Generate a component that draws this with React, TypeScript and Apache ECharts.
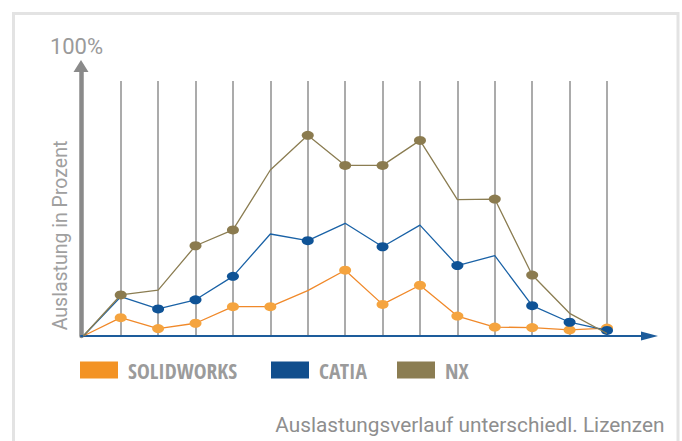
import React, { useEffect, useRef } from "react";
import * as echarts from "echarts";

// ---- data ----
const categories = ["0", "1", "2", "3", "4", "5", "6", "7", "8", "9", "10", "11", "12", "13", "14"];
const seriesNames = ["SOLIDWORKS", "CATIA", "NX"];
const solidworks = [0, 7.2, 2.9, 5.0, 11.5, 11.5, 17.8, 25.8, 12.4, 19.9, 7.8, 3.5, 3.3, 2.4, 3.1];
const catia = [0, 15.4, 10.6, 14.2, 23.4, 40.0, 37.4, 44.2, 35.0, 43.5, 27.6, 31.5, 11.9, 5.4, 2.2];
const nx = [0, 16.1, 18.0, 35.4, 41.6, 65.1, 78.7, 66.9, 66.9, 76.7, 53.5, 53.7, 23.9, 8.9, 1.0];
// 1 = point drawn with a marker, 0 = plain vertex
const solidworksMarkers = [0, 1, 1, 1, 1, 1, 0, 1, 1, 1, 1, 1, 1, 1, 1];
const catiaMarkers = [0, 0, 1, 1, 1, 0, 1, 0, 1, 0, 1, 0, 1, 1, 1];
const nxMarkers = [0, 1, 0, 1, 1, 0, 1, 1, 1, 1, 0, 1, 1, 0, 0];
const yMin = 0;
const yMax = 100;
const topLabel = "100%";
const axisTitle = "Auslastung in Prozent";
const footerText = "Auslastungsverlauf unterschiedl. Lizenzen";

const lineColors = ["#f0892a", "#1a62a6", "#8b7d52"];
const markerColors = ["#f5a43f", "#0f5396", "#8b7b4f"];
const legendColors = ["#f39325", "#114e8d", "#8b7d52"];

function withMarkers(values: number[], markers: number[]) {
  return values.map((v, i) => (markers[i] ? v : { value: v, symbol: "none" }));
}

export default function App() {
  const ref = useRef<HTMLDivElement>(null);
  useEffect(() => {
    if (!ref.current) return;
    const chart = echarts.init(ref.current, undefined, { renderer: "svg" });
    const seriesData = [
      withMarkers(solidworks, solidworksMarkers),
      withMarkers(catia, catiaMarkers),
      withMarkers(nx, nxMarkers),
    ];
    const legendLefts = [80, 271, 397];
    const textFont = "Roboto, 'Noto Sans', sans-serif";
    chart.setOption({
      animation: false,
      backgroundColor: "#ffffff",
      grid: [
        { left: 83.3, top: 81, width: 523.7, height: 255 },
        { left: 81, top: 66, right: 32.5, bottom: 105 },
      ],
      xAxis: [
        {
          gridIndex: 0,
          type: "category",
          data: categories,
          boundaryGap: false,
          axisLine: { show: false },
          axisTick: { show: false },
          axisLabel: { show: false },
          splitLine: {
            show: true,
            interval: (index: number) => index !== 0,
            lineStyle: { color: "#ababab", width: 2 },
          },
        },
        {
          gridIndex: 1,
          type: "value",
          min: 0,
          max: 1,
          axisLine: {
            show: true,
            symbol: ["none", "triangle"],
            symbolSize: [9, 17],
            lineStyle: { color: "#1d5c9b", width: 2 },
          },
          axisTick: { show: false },
          axisLabel: { show: false },
          splitLine: { show: false },
        },
      ],
      yAxis: [
        {
          gridIndex: 0,
          type: "value",
          min: yMin,
          max: yMax,
          axisLine: { show: false },
          axisTick: { show: false },
          axisLabel: { show: false },
          splitLine: { show: false },
        },
        {
          gridIndex: 1,
          type: "value",
          min: 0,
          max: 1,
          axisLine: {
            show: true,
            symbol: ["none", "triangle"],
            symbolSize: [15, 12],
            lineStyle: { color: "#8a8a8a", width: 4.5 },
          },
          axisTick: { show: false },
          axisLabel: { show: false },
          splitLine: { show: false },
        },
      ],
      legend: seriesNames.map((name, i) => ({
        data: [{ name, itemStyle: { color: legendColors[i], borderWidth: 0 } }],
        left: legendLefts[i],
        top: 359,
        icon: "rect",
        itemWidth: 38,
        itemHeight: 17,
        padding: 0,
        textStyle: {
          color: "#9b9b9b",
          fontFamily: "'Open Sans Condensed', 'DejaVu Sans Condensed', sans-serif",
          fontWeight: "bold",
          fontSize: 21.5,
          padding: [0, 0, 0, 5],
        },
      })),
      series: seriesNames.map((name, i) => ({
        name,
        type: "line",
        xAxisIndex: 0,
        yAxisIndex: 0,
        data: seriesData[i],
        symbol: "circle",
        symbolSize: [12, 9],
        showAllSymbol: true,
        lineStyle: { color: lineColors[i], width: 1.3 },
        itemStyle: { color: markerColors[i], borderWidth: 0 },
        emphasis: { disabled: true },
        z: 3 + i,
      })),
      graphic: [
        {
          type: "rect",
          shape: { x: 13.5, y: 13.5, width: 664.5, height: 460 },
          style: { fill: "none", stroke: "#e3e3e3", lineWidth: 3 },
          silent: true,
          z: 0,
        },
        {
          type: "text",
          x: 76.5,
          y: 46,
          style: {
            text: topLabel,
            fill: "#9a9a9a",
            font: `22px ${textFont}`,
            align: "center",
            verticalAlign: "middle",
          },
        },
        {
          type: "text",
          x: 60,
          y: 235.5,
          rotation: Math.PI / 2,
          style: {
            text: axisTitle,
            fill: "#a0a0a0",
            font: `19.5px ${textFont}`,
            align: "center",
            verticalAlign: "middle",
          },
        },
        {
          type: "text",
          x: 664.5,
          y: 424.5,
          style: {
            text: footerText,
            fill: "#8e8e8e",
            font: `20.8px ${textFont}`,
            align: "right",
            verticalAlign: "middle",
          },
        },
      ],
    });
    return () => chart.dispose();
  }, []);
  return (
    <div
      ref={ref}
      style={{ position: "absolute", left: 0, top: 0, width: 682, height: 441 }}
    />
  );
}
